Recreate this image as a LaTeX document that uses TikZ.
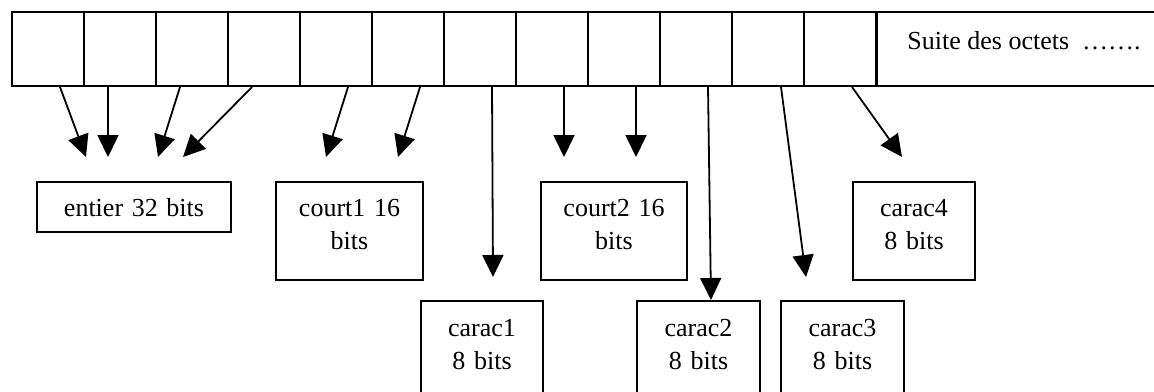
\documentclass[tikz,border=0pt]{standalone}
\usepackage{fontspec}
\setmainfont{Liberation Serif}
\usetikzlibrary{arrows.meta}
\begin{document}
\begin{tikzpicture}[x=0.5pt,y=-0.5pt,
  cell/.style={draw,line width=1pt,minimum width=36pt,minimum height=37pt,inner sep=0pt},
  field/.style={draw,line width=1pt,anchor=north west,inner sep=0pt,align=center,
    font=\fontsize{13}{16.5}\selectfont},
  arr/.style={line width=0.9pt,-{Triangle[length=11pt,width=10.5pt]}}]
\useasboundingbox (0,0) rectangle (1154,391);
\clip (0,0) rectangle (1154,391);

% byte strip
\foreach \i in {1,...,12}
  \node[cell] (cell\i) at ({12+72*\i-36},49) {};
\node[draw,line width=1pt,anchor=west,minimum width=150pt,minimum height=37pt,inner sep=0pt]
  (suite) at (876,49) {};
\node[anchor=base west,inner sep=0pt,font=\fontsize{13}{16.5}\selectfont]
  (suitelbl) at (907,49) {Suite des octets \ ……. };

% fields
\node[field,text width=97pt] (ent) at (36,181)
  {\rule{0pt}{17pt}entier 32 bits\rule[-8pt]{0pt}{0pt}};
\node[field,text width=73.5pt] (crt1) at (275,181)
  {\rule{0pt}{17pt}court1 16\\bits\rule[-15.5pt]{0pt}{0pt}};
\node[field,text width=73pt] (crt2) at (540,181)
  {\rule{0pt}{17pt}court2 16\\bits\rule[-15.5pt]{0pt}{0pt}};
\node[field,text width=61pt] (car4) at (852,181)
  {\rule{0pt}{17pt}carac4\\8 bits\rule[-15.5pt]{0pt}{0pt}};
\node[field,text width=61pt] (car1) at (420,300)
  {\rule{0pt}{17.5pt}carac1\\8 bits\rule[-20pt]{0pt}{0pt}};
\node[field,text width=61.5pt] (car2) at (636,300)
  {\rule{0pt}{17.5pt}carac2\\8 bits\rule[-20pt]{0pt}{0pt}};
\node[field,text width=61.5pt] (car3) at (780,300)
  {\rule{0pt}{17.5pt}carac3\\8 bits\rule[-20pt]{0pt}{0pt}};

% arrow tips
\coordinate (t1) at (86,157);
\coordinate (t2) at (108,157);
\coordinate (t3) at (158,157);
\coordinate (t4) at (183,157);
\coordinate (t5) at (326,157);
\coordinate (t6) at (398,157);
\coordinate (t7) at (493,277);
\coordinate (t8) at (564,157);
\coordinate (t9) at (636,157);
\coordinate (t11) at (806,277);
\coordinate (t12) at (902,157);

% arrows
\draw[arr] ([xshift=6pt]cell1.south) -- (t1);
\draw[arr] ([xshift=-6pt]cell2.south) -- (t2);
\draw[arr] ([xshift=-6pt]cell3.south) -- (t3);
\draw[arr] ([xshift=-6pt]cell4.south) -- (t4);
\draw[arr] ([xshift=6pt]cell5.south) -- (t5);
\draw[arr] ([xshift=6pt]cell6.south) -- (t6);
\draw[arr] ([xshift=6pt]cell7.south) -- (t7);
\draw[arr] ([xshift=6pt]cell8.south) -- (t8);
\draw[arr] ([xshift=6pt]cell9.south) -- (t9);
\draw[arr] ([xshift=6pt]cell10.south) -- ([xshift=6.25pt]car2.north);
\draw[arr] ([xshift=6.5pt]cell11.south) -- (t11);
\draw[arr] ([xshift=6pt]cell12.south) -- (t12);
\end{tikzpicture}
\end{document}
